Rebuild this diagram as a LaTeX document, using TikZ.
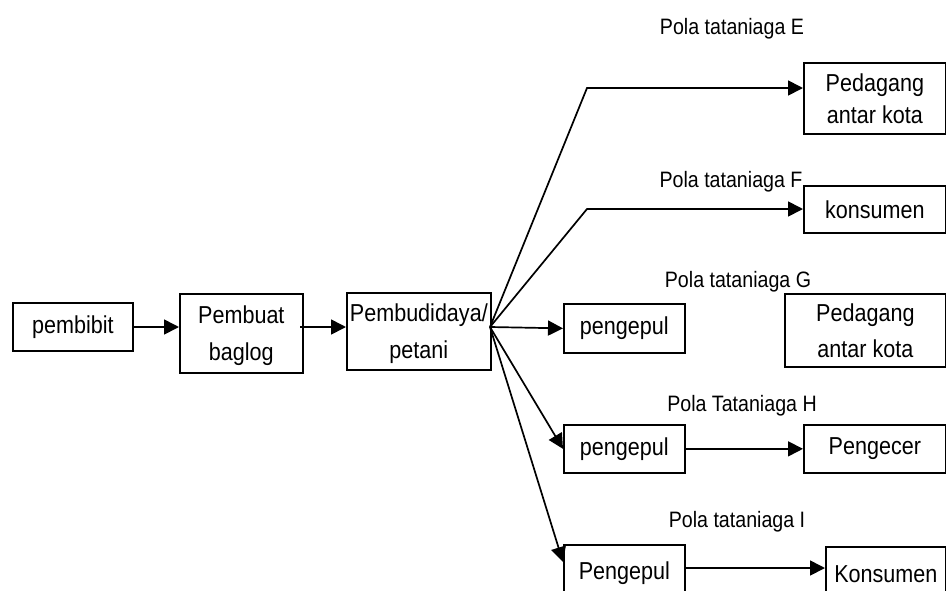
\documentclass[tikz,border=0pt]{standalone}
\usepackage{fontspec}
\setmainfont{Liberation Sans}[FakeStretch=0.88]
\usetikzlibrary{arrows.meta}
\begin{document}
\begin{tikzpicture}[x=1pt,y=-1pt,
  box/.style={draw,line width=1.7pt,inner sep=0pt,anchor=north west,align=center,
    font=\fontsize{24.5}{32}\selectfont},
  lowtext/.style={font=\fontsize{24.5}{37}\selectfont,text depth=0pt},
  lbl/.style={inner sep=0pt,anchor=base,font=\fontsize{22.3}{26}\selectfont},
  link/.style={line width=1.7pt,-{Triangle[length=15pt,width=15pt]}}]
\useasboundingbox (0,0) rectangle (946,590);
\clip (0,0) rectangle (946,590);
% main chain
\node[box,minimum width=120pt,minimum height=48pt] (pembibit) at (12,302) {pembibit};
\node[box,lowtext,minimum width=123pt,minimum height=79pt] (baglog) at (179,293) {Pembuat\\baglog};
\node[box,lowtext,minimum width=144pt,minimum height=77pt] (petani) at (346,292) {Pembudidaya/\\petani};
% right boxes
\node[box,minimum width=142pt,minimum height=71pt] (dagE) at (803,62) {Pedagang\\antar kota};
\node[box,minimum width=142pt,minimum height=47pt] (konF) at (803,185) {konsumen};
\node[box,minimum width=121pt,minimum height=49pt] (kumG) at (563,303) {pengepul};
\node[box,font=\fontsize{24.5}{36}\selectfont,minimum width=161pt,minimum height=73pt] (dagG) at (784,293) {Pedagang\\antar kota};
\node[box,minimum width=121pt,minimum height=48pt] (kumH) at (563,424) {pengepul};
\node[box,minimum width=142pt,minimum height=48pt] (ecerH) at (803,424) {Pengecer};
\node[box,minimum width=121pt,minimum height=56pt] (kumI) at (563,544) {Pengepul};
\node[box,minimum width=120pt,minimum height=54pt] (konI) at (825,546) {Konsumen};
% labels
\node[lbl] (lE) at (732,34) {Pola tataniaga E};
\node[lbl] (lF) at (731,187) {Pola tataniaga F};
\node[lbl] (lG) at (738,287) {Pola tataniaga G};
\node[lbl] (lH) at (742,411) {Pola Tataniaga H};
\node[lbl] (lI) at (737,527) {Pola tataniaga I};
% coordinates
\coordinate (fan) at (490,327);
\coordinate (kE) at (587,88);
\coordinate (kF) at (587,209);
\coordinate (tI) at (563,562);
\coordinate (sI) at (684,568);
% connectors
\draw[link] (pembibit.east |- 0,327) -- (baglog.west |- 0,327);
\draw[link] (300,327) -- (petani.west |- 0,327);
\draw[link] (fan) -- (kE) -- (dagE.west |- kE);
\draw[link] (fan) -- (kF) -- (konF.west |- kF);
\draw[link] (fan) -- (kumG.west);
\draw[link] (fan) -- (kumH.west);
\draw[link] (fan) -- (tI);
\draw[link] (kumH.east) -- (ecerH.west);
\draw[link] (sI) -- (konI.west |- sI);
\end{tikzpicture}
\end{document}
